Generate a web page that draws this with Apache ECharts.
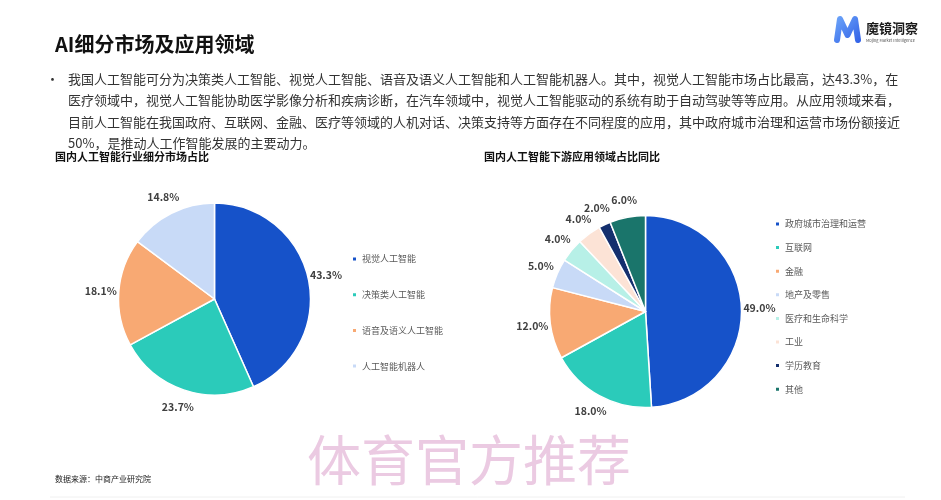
<!DOCTYPE html>
<html>
<head>
<meta charset="utf-8">
<script src="https://cdn.jsdelivr.net/npm/echarts@6/dist/echarts.min.js"></script>
<style>
html,body{margin:0;padding:0;background:#fff;}
#chart{width:941px;height:500px;}
</style>
</head>
<body>
<div id="chart"></div>
<script>
// ---- data ----
const titleText = 'AI细分市场及应用领域';
const bodyLines = [
  '我国人工智能可分为决策类人工智能、视觉人工智能、语音及语义人工智能和人工智能机器人。其中，视觉人工智能市场占比最高，达43.3%，在',
  '医疗领域中，视觉人工智能协助医学影像分析和疾病诊断，在汽车领域中，视觉人工智能驱动的系统有助于自动驾驶等等应用。从应用领域来看，',
  '目前人工智能在我国政府、互联网、金融、医疗等领域的人机对话、决策支持等方面存在不同程度的应用，其中政府城市治理和运营市场份额接近',
  '50%，是推动人工作智能发展的主要动力。'
];
const leftTitle = '国内人工智能行业细分市场占比';
const rightTitle = '国内人工智能下游应用领域占比同比';
const segNames = ['视觉人工智能', '决策类人工智能', '语音及语义人工智能', '人工智能机器人'];
const segValues = [43.3, 23.7, 18.1, 14.8];
const appNames = ['政府城市治理和运营', '互联网', '金融', '地产及零售', '医疗和生命科学', '工业', '学历教育', '其他'];
const appValues = [49.0, 18.0, 12.0, 5.0, 4.0, 4.0, 2.0, 6.0];
const sourceText = '数据来源：中商产业研究院';
const watermarkText = '体育官方推荐';
const logoText = '魔镜洞察';
const logoSub = 'Mojing Market Intelligence';

// ---- styles ----
const segColors = ['#1652C9', '#2BCBBA', '#F8A973', '#C8DAF7'];
const appColors = ['#1652C9', '#2BCBBA', '#F8A973', '#C8DAF7', '#B7F0E7', '#FCE3D6', '#142F6E', '#1A756B'];
const FONT = '"Noto Sans CJK SC","Noto Sans",sans-serif';

const chart = echarts.init(document.getElementById('chart'), null, {renderer: 'canvas'});

function mkData(names, values) {
  return names.map((n, i) => ({name: n, value: values[i]}));
}
function pieMain(center, names, values, colors) {
  return {
    type: 'pie', center: center, radius: 96, startAngle: 90, clockwise: true,
    avoidLabelOverlap: false, silent: true,
    color: colors,
    itemStyle: {borderColor: '#fff', borderWidth: 1.5},
    label: {show: false}, labelLine: {show: false},
    data: mkData(names, values)
  };
}
function pieLabels(center, names, values) {
  return {
    type: 'pie', center: center, radius: [96, 126], startAngle: 90, clockwise: true,
    avoidLabelOverlap: false, silent: true,
    itemStyle: {color: 'rgba(0,0,0,0)', borderWidth: 0},
    label: {show: true, position: 'inside', formatter: p => p.value.toFixed(1) + '%',
            color: '#404040', fontSize: 10.5, fontWeight: 'bold', fontFamily: FONT},
    labelLine: {show: false},
    legendHoverLink: false,
    data: mkData(names, values)
  };
}

function txt(x, y, text, font, fill, extra) {
  return Object.assign({type: 'text', x: x, y: y,
    style: {text: text, font: font, fill: fill, verticalAlign: 'middle', align: 'left'}}, extra || {});
}

const graphics = [];
graphics.push(txt(55, 44, titleText, 'bold 20px ' + FONT, '#111'));
graphics.push(txt(46, 79, '•', '13px ' + FONT, '#333'));
bodyLines.forEach((t, i) => {
  graphics.push(txt(68, 79 + i * 21.4, t, '13px ' + FONT, '#333'));
});
graphics.push(txt(55, 157, leftTitle, 'bold 11px ' + FONT, '#111'));
graphics.push(txt(484, 157, rightTitle, 'bold 11px ' + FONT, '#111'));
graphics.push(txt(55, 479, sourceText, '8px ' + FONT, '#222'));
graphics.push(txt(307, 460, watermarkText, '54px ' + FONT, '#EBCAE2', {z: 100}));
// logo
graphics.push({type: 'polyline', shape: {points: [[837, 40], [840, 19], [847.5, 35], [855, 19], [858, 40]]},
  style: {lineWidth: 6, lineCap: 'round', lineJoin: 'round', fill: null,
    stroke: new echarts.graphic.LinearGradient(0, 0, 1, 1, [{offset: 0, color: '#6FA8FA'}, {offset: 1, color: '#2F5EE6'}])}});
graphics.push(txt(866, 28, logoText, 'bold 13px ' + FONT, '#1a1a1a'));
graphics.push(txt(866, 40, logoSub, '4px ' + FONT, '#555'));
graphics.push({type: 'line', shape: {x1: 50, y1: 497, x2: 905, y2: 497}, style: {stroke: '#f0f0f0', lineWidth: 1}});

const legendBase = {
  orient: 'vertical', icon: 'rect', itemWidth: 5, itemHeight: 5, padding: 0,
  textStyle: {fontSize: 9, color: '#595959', fontFamily: FONT, lineHeight: 12},
  selectedMode: false
};

chart.setOption({
  backgroundColor: '#fff',
  animation: false,
  legend: [
    Object.assign({}, legendBase, {left: 351, top: 253, itemGap: 23.7, data: segNames}),
    Object.assign({}, legendBase, {left: 774, top: 218, itemGap: 11.6, data: appNames})
  ],
  graphic: graphics,
  series: [
    pieMain([214.5, 299], segNames, segValues, segColors),
    pieLabels([214.5, 299], segNames, segValues),
    pieMain([645.5, 311.5], appNames, appValues, appColors),
    pieLabels([645.5, 311.5], appNames, appValues)
  ]
});
</script>
</body>
</html>
